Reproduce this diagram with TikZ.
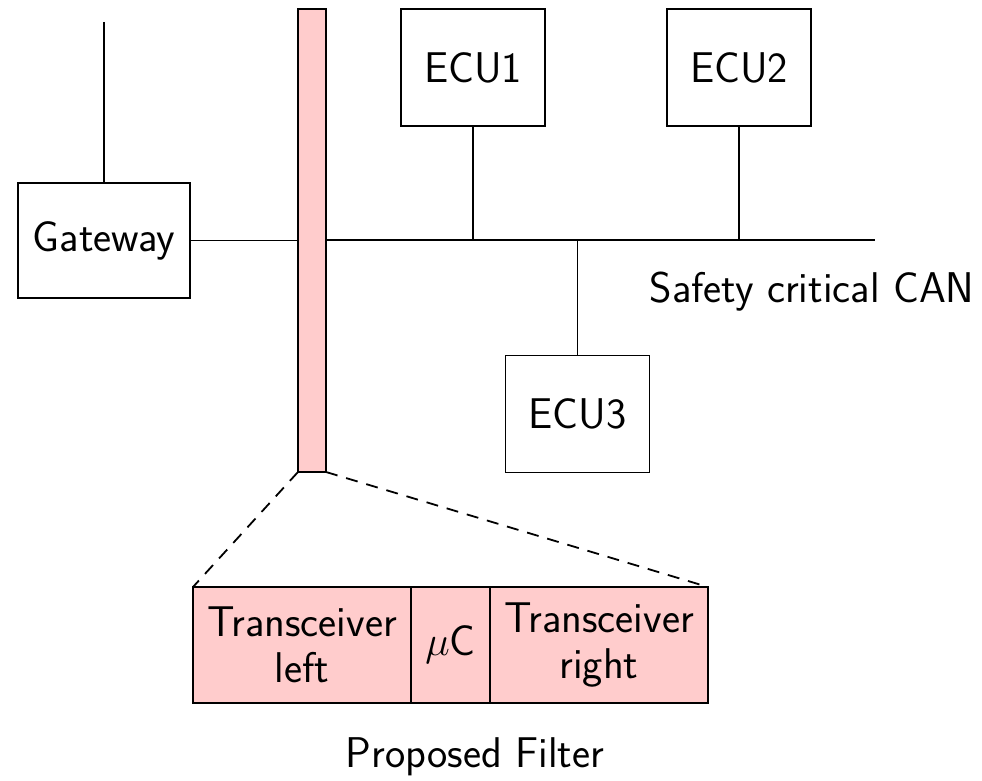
\documentclass[tikz,border=0pt]{standalone}
\usepackage{tikz}
\usetikzlibrary{positioning}
\tikzset{
  unit/.style={draw, line width=0.9pt, outer sep=0pt, inner sep=0pt,
    minimum width=72pt, minimum height=58.5pt},
  filterpart/.style={draw, line width=0.9pt, fill=red!20, outer sep=0pt,
    inner sep=0pt, minimum height=58pt, align=center},
  zoomline/.style={line width=0.9pt, dash pattern=on 6pt off 4.5pt},
}

\begin{document}
\begin{tikzpicture}[x=0.5pt, y=-0.5pt, line width=0.9pt,
    font=\sffamily\fontsize{21.5}{23}\selectfont]

    \useasboundingbox (0,0) rectangle (982,781);

    % Gateway and filter on the bus
    \node[unit, minimum width=86pt, minimum height=57.5pt] (gw) at (104,240.5) {Gateway};
    \coordinate (gwtop) at (104,22);
    \node[draw, fill=red!20, outer sep=0pt, inner sep=0pt,
      minimum width=14pt, minimum height=231.5pt] (filter) at (312,240.5) {};

    % ECUs
    \node[unit] (ecu1) at (473,67.5) {ECU1};
    \node[unit] (ecu2) at (739,67.5) {ECU2};
    \node[unit] (ecu3) at (577.5,414) {ECU3};

    \coordinate (busend) at (875,240);
    \node (can) at (812,292) {Safety critical CAN};

    % Lines
    \draw (gwtop) -- (gw.north);
    \draw (gw.east) -- (gw.east -| filter.west);
    \draw (filter.east |- busend) -- (busend);
    \draw (ecu1.south) -- (ecu1.south |- busend);
    \draw (ecu2.south) -- (ecu2.south |- busend);
    \draw (ecu3.north) -- (ecu3.north |- busend);

    % Filter in detail
    \node[filterpart, minimum width=109pt, anchor=west] (tl) at (193,645) {Transceiver\\left};
    \node[filterpart, minimum width=39.5pt, right=0pt of tl] (uc) {$\mu$C};
    \node[filterpart, minimum width=109pt, right=0pt of uc] (tr) {Transceiver\\right};
    \node (label) at (475,757) {Proposed Filter};

    \draw[zoomline] (filter.south west) -- (tl.north west);
    \draw[zoomline] (filter.south east) -- (tr.north east);

\end{tikzpicture}
\end{document}
